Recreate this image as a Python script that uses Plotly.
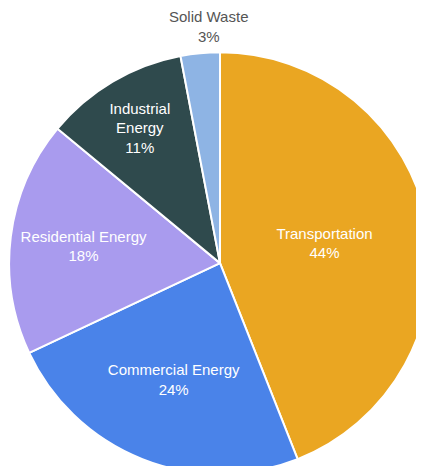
import plotly.graph_objects as go

# ── Data ──────────────────────────────────────────────────────────────────────
sectors = ["Transportation", "Commercial Energy", "Residential Energy",
           "Industrial Energy", "Solid Waste"]
shares = [44, 24, 18, 11, 3]
slice_labels = ["Transportation", "Commercial Energy", "Residential Energy",
                "Industrial<br>Energy", "Solid Waste"]
colors = ["#EAA622", "#4A83E9", "#A99BEE", "#2F4A4D", "#8EB4E4"]

# small slice gets its label above the pie, as in the original graphic
positions = ["inside", "inside", "inside", "inside", "none"]
FONT = "Liberation Sans, Arial, sans-serif"

fig = go.Figure(
    go.Pie(
        labels=sectors,
        values=shares,
        text=slice_labels,
        texttemplate="%{text}<br>%{value}%",
        textposition=positions,
        insidetextorientation="horizontal",
        textfont=dict(family=FONT, size=15, color="white"),
        marker=dict(colors=colors, line=dict(color="white", width=2)),
        sort=False,
        direction="clockwise",
        rotation=0,
        hoverinfo="label+percent",
        domain=dict(x=[0.0, 1.0], y=[0.0, 0.905]),
    )
)

fig.add_annotation(
    text=f"{slice_labels[-1]}<br>{shares[-1]}%",
    x=0.474, y=0.96, xref="paper", yref="paper",
    xanchor="center", yanchor="middle",
    showarrow=False,
    font=dict(family=FONT, size=15, color="#555555"),
)

fig.update_layout(
    width=424,
    height=466,
    margin=dict(l=0, r=0, t=0, b=0),
    showlegend=False,
    paper_bgcolor="white",
    font=dict(family=FONT),
)

fig.write_html("out.html")
